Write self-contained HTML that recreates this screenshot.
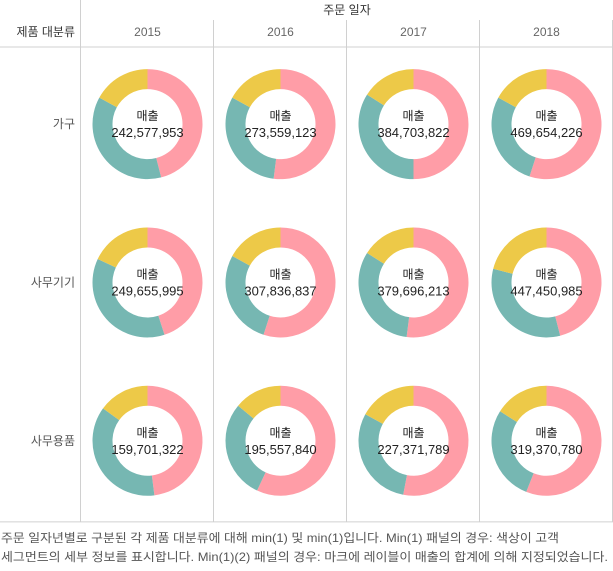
<!DOCTYPE html>
<html><head><meta charset="utf-8">
<style>
body{margin:0;width:613px;height:566px;background:#fff;overflow:hidden;font-family:"Liberation Sans","Noto Sans CJK KR",sans-serif;}
svg text{font-family:"Liberation Sans","Noto Sans CJK KR",sans-serif;}
</style></head><body>
<svg id="c" width="613" height="566"></svg>
<script>
const years=['2015','2016','2017','2018'];
const categories=['가구','사무기기','사무용품'];
const totals=[
 ['242,577,953','273,559,123','384,703,822','469,654,226'],
 ['249,655,995','307,836,837','379,696,213','447,450,985'],
 ['159,701,322','195,557,840','227,371,789','319,370,780']];
const consumerShare=[[0.46,0.52,0.50,0.55],[0.45,0.55,0.52,0.46],[0.48,0.57,0.53,0.56]];
const corporateShare=[[0.37,0.31,0.34,0.28],[0.37,0.28,0.32,0.33],[0.37,0.29,0.30,0.28]];
const homeOfficeShare=[[0.17,0.17,0.16,0.17],[0.18,0.17,0.16,0.21],[0.15,0.14,0.17,0.16]];
const colors=['#FF9DA7','#76B7B2','#EDC948'];
const segNames=['consumer','corporate','home-office'];
const NS='http://www.w3.org/2000/svg';
const svg=document.getElementById('c');
function mk(t,a,p){const e=document.createElementNS(NS,t);for(const k in a)e.setAttribute(k,a[k]);(p||svg).appendChild(e);return e;}
const colX=[81,214,347,480,613], gridTop=47, rowH=158.3;
function rowY(i){return gridTop+i*rowH;}
let l;
l=mk('line',{x1:0,y1:gridTop,x2:613,y2:gridTop,stroke:'#d0d0d0'});


l=mk('line',{x1:0,y1:rowY(3),x2:613,y2:rowY(3),stroke:'#d0d0d0'});


colX.forEach((x,i)=>{
 const v=mk('line',{x1:x-0.5,y1:i==0?0:20,x2:x-0.5,y2:rowY(3),stroke:'#d0d0d0'});
 
 
});
let tt1=mk('text',{x:347,y:14,'text-anchor':'middle','font-size':12,fill:'#333'});tt1.textContent='주문 일자';


let tt2=mk('text',{x:75,y:36,'text-anchor':'end','font-size':12,fill:'#333'});tt2.textContent='제품 대분류';


years.forEach((y,j)=>{
 const yt=mk('text',{x:(colX[j]+colX[j+1])/2,y:36,'text-anchor':'middle','font-size':12,fill:'#666'});yt.textContent=y;
 
 
});
const R=55,r=35;
function pt(cx,cy,rad,f){const a=f*2*Math.PI;return [cx+rad*Math.sin(a),cy-rad*Math.cos(a)];}
categories.forEach((c,i)=>{
 const cy=rowY(i)+rowH/2-2;
 const ct=mk('text',{x:75,y:cy+4,'text-anchor':'end','font-size':12,fill:'#555'});ct.textContent=c;
 
 
 years.forEach((y,j)=>{
  const cx=(colX[j]+colX[j+1])/2;
  const vals=[consumerShare[i][j],corporateShare[i][j],homeOfficeShare[i][j]];
  const sum=vals.reduce((a,b)=>a+b,0);
  const g=mk('g',{});
  
  
  let acc=0;
  vals.forEach((v,k)=>{
   const f0=acc/sum,f1=(acc+v)/sum;acc+=v;
   const [x0,y0]=pt(cx,cy,R,f0),[x1,y1]=pt(cx,cy,R,f1),[x2,y2]=pt(cx,cy,r,f1),[x3,y3]=pt(cx,cy,r,f0);
   const lg=(f1-f0)>0.5?1:0;
   const p=mk('path',{d:`M${x0},${y0}A${R},${R} 0 ${lg} 1 ${x1},${y1}L${x2},${y2}A${r},${r} 0 ${lg} 0 ${x3},${y3}Z`,fill:colors[k]},g);
   
   
  });
  const a=mk('text',{x:cx,y:cy-4,'text-anchor':'middle','font-size':12,fill:'#222'},g);a.textContent='매출';
  
  
  const b=mk('text',{x:cx,y:cy+13,'text-anchor':'middle','font-size':13,fill:'#222'},g);b.textContent=totals[i][j];
  
  
 });
});
const notes=['주문 일자년별로 구분된 각 제품 대분류에 대해 min(1) 및 min(1)입니다.  Min(1) 패널의 경우: 색상이 고객',
'세그먼트의 세부 정보를 표시합니다.  Min(1)(2) 패널의 경우: 마크에 레이블이 매출의 합계에 의해 지정되었습니다.'];
const noteWidths=[558,607];
notes.forEach((n,i)=>{
 const nt=mk('text',{x:1,y:542+i*19,'font-size':12,fill:'#555',textLength:noteWidths[i],lengthAdjust:'spacingAndGlyphs'});nt.textContent=n;
 
 
});
</script>
</body></html>
